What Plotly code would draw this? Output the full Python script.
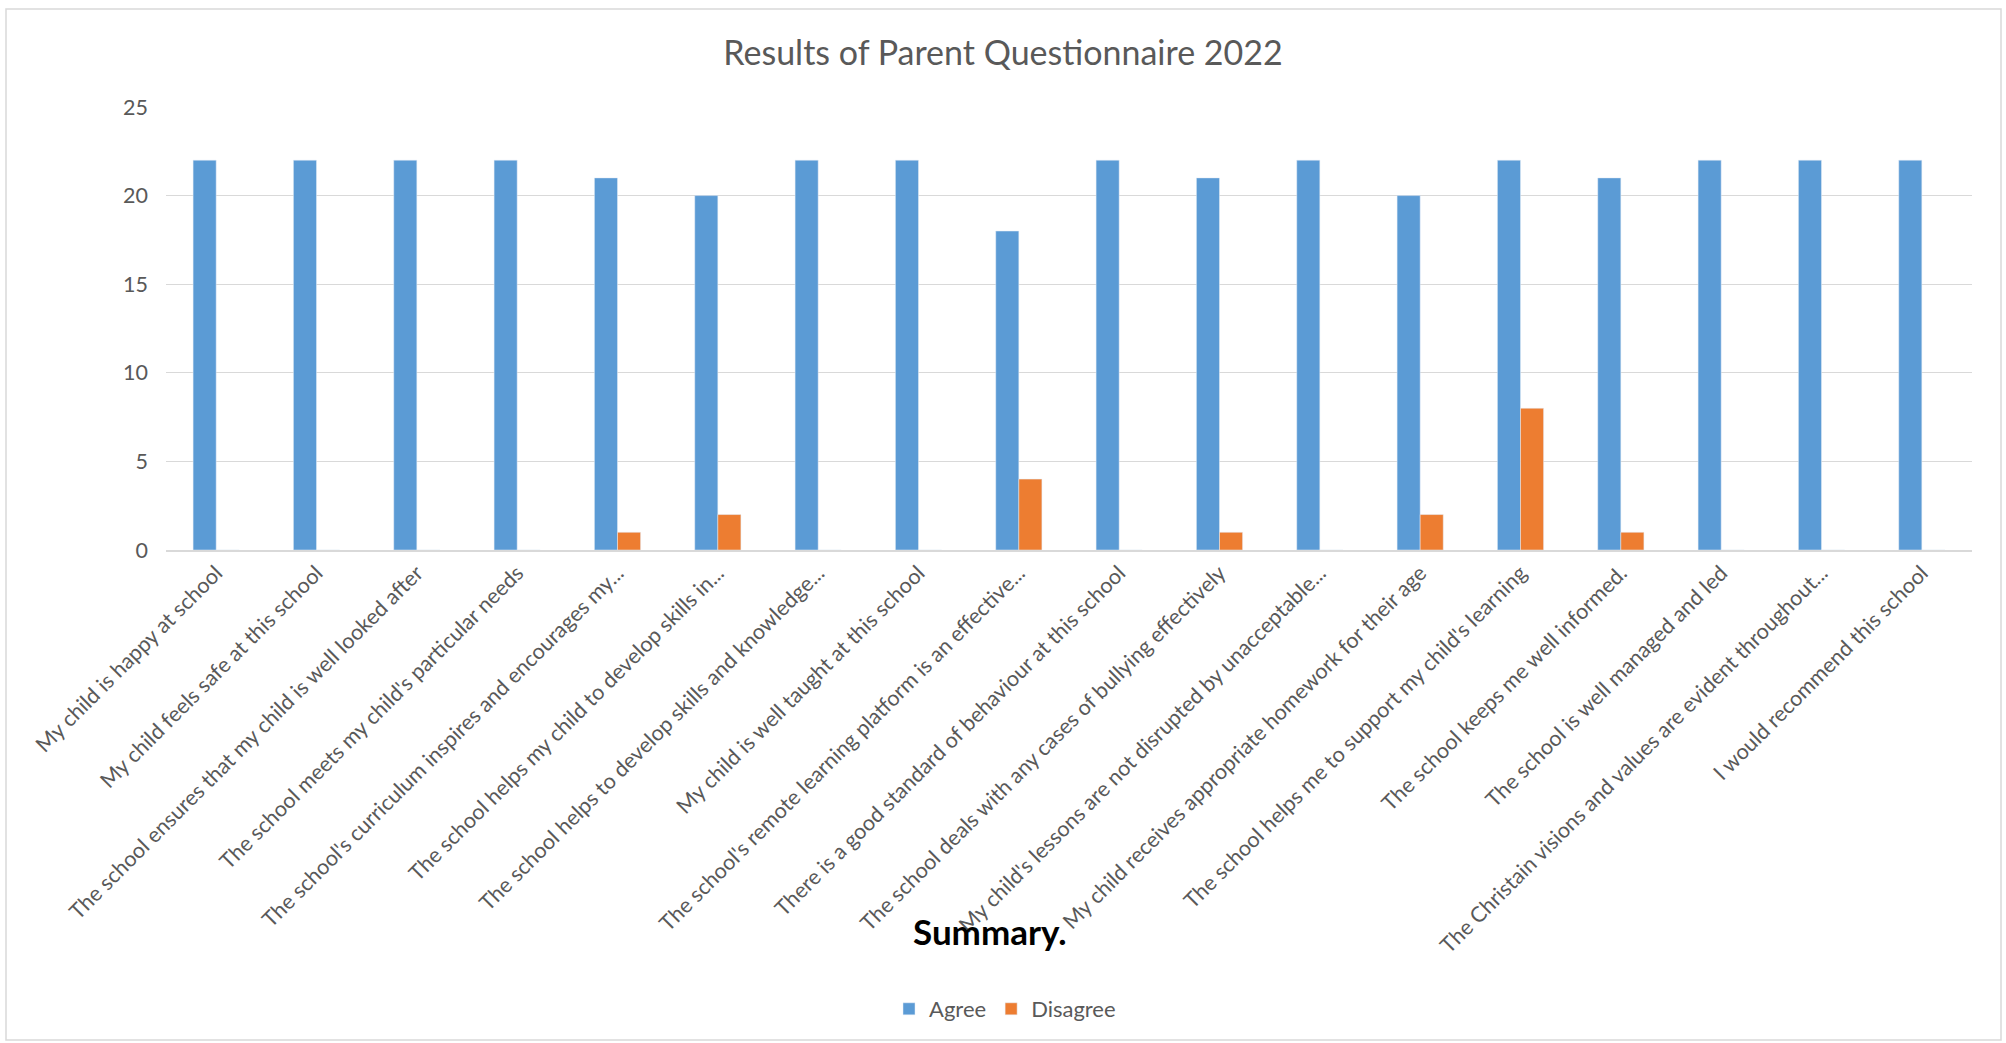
import plotly.graph_objects as go

categories = [
    "My child is happy at school",
    "My child feels safe at this school",
    "The school ensures that my child is well looked after",
    "The school meets my child's particular needs",
    "The school's curriculum inspires and encourages my...",
    "The school helps my child to develop skills in...",
    "The school helps to develop skills and knowledge...",
    "My child is well taught at this school",
    "The school's remote learning platform is an effective...",
    "There is a good standard of behaviour at this school",
    "The school deals with any cases of bullying effectively",
    "My child's lessons are not disrupted by unacceptable...",
    "My child receives appropriate homework for their age",
    "The school helps me to support my child's learning",
    "The school keeps me well informed.",
    "The school is well managed and led",
    "The Christain visions and values are evident throughout...",
    "I would recommend this school",
]
agree = [22, 22, 22, 22, 21, 20, 22, 22, 18, 22, 21, 22, 20, 22, 21, 22, 22, 22]
disagree = [0, 0, 0, 0, 1, 2, 0, 0, 4, 0, 1, 0, 2, 8, 1, 0, 0, 0]
y_ticks = [0, 5, 10, 15, 20, 25]

FONT = "Lato"
GREY = "#595959"

W, H = 2006, 1043
L, R, T, B = 166, 2006 - 1972, 107, 1043 - 550
pw, ph = W - L - R, H - T - B

def px(x):
    return (x - L) / pw

def py(y):
    return (H - B - y) / ph

fig = go.Figure()
fig.add_trace(go.Bar(name="Agree", x=categories, y=agree, marker_color="#5B9BD5"))
fig.add_trace(go.Bar(name="Disagree", x=categories, y=disagree, marker_color="#ED7D31"))

fig.update_layout(
    width=W, height=H,
    margin=dict(l=L, r=R, t=T, b=B, autoexpand=False),
    paper_bgcolor="white", plot_bgcolor="white",
    barmode="group", bargap=0.54, bargroupgap=0,
    title=dict(text="Results of Parent Questionnaire 2022",
               font=dict(family=FONT, size=34, color=GREY),
               x=1003 / W, xanchor="center", y=1 - 53 / H, yanchor="middle"),
    font=dict(family=FONT, color=GREY),
    showlegend=True,
    legend=dict(orientation="h", x=px(1005), xanchor="center", y=py(1009), yanchor="middle",
                font=dict(family=FONT, size=22, color=GREY), itemwidth=30,
                traceorder="normal"),
    xaxis=dict(tickangle=-45, tickfont=dict(family=FONT, size=21.5, color=GREY),
               showgrid=False, showline=True, linecolor="#D9D9D9", linewidth=2,
               ticks="", automargin=False),
    yaxis=dict(range=[0, 25], tickvals=y_ticks, tickfont=dict(family=FONT, size=21.5, color=GREY),
               showgrid=True, gridcolor="#D9D9D9", gridwidth=1.3, zeroline=False,
               showline=False, ticks="", ticklabelstandoff=17, automargin=False),
    shapes=[dict(type="rect", xref="paper", yref="paper",
                 x0=px(6), x1=px(2001), y0=py(1040), y1=py(9),
                 line=dict(color="#D9D9D9", width=1.5), fillcolor="rgba(0,0,0,0)", layer="below")],
    annotations=[dict(text="<b>Summary.</b>", xref="paper", yref="paper",
                      x=px(990), y=py(931), xanchor="center", yanchor="middle",
                      showarrow=False, font=dict(family=FONT, size=35, color="black"))],
)

fig.write_html("out.html", config={"displayModeBar": False},
               post_script="document.body.style.margin='0';")
